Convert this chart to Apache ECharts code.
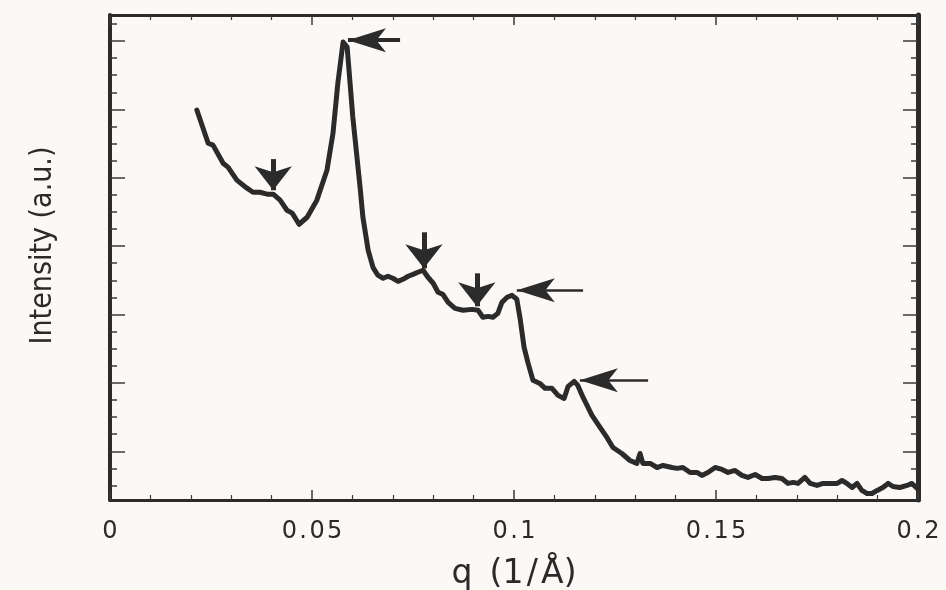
<!DOCTYPE html>
<html>
<head>
<meta charset="utf-8">
<title>Intensity vs q</title>
<script src="https://cdn.jsdelivr.net/npm/echarts@6/dist/echarts.min.js"></script>
<style>
  html, body { margin: 0; padding: 0; background: #fcf8f6; }
  #chart { width: 946px; height: 590px; }
</style>
</head>
<body>
<div id="chart"></div>
<script>
// Scattering vector q (1/Å)
var qValues = [
  0.0215, 0.0243, 0.0255, 0.0280, 0.0292, 0.0314, 0.0339, 0.0354, 0.0371, 0.0389,
  0.0404, 0.0421, 0.0438, 0.0451, 0.0468, 0.0488, 0.0512, 0.0537, 0.0552, 0.0564,
  0.0577, 0.0587, 0.0601, 0.0619, 0.0626, 0.0639, 0.0651, 0.0663, 0.0676, 0.0688,
  0.0700, 0.0713, 0.0725, 0.0738, 0.0750, 0.0762, 0.0775, 0.0787, 0.0800, 0.0812,
  0.0824, 0.0837, 0.0854, 0.0874, 0.0896, 0.0911, 0.0923, 0.0936, 0.0948, 0.0960,
  0.0970, 0.0983, 0.0995, 0.1007, 0.1015, 0.1025, 0.1035, 0.1047, 0.1064, 0.1077,
  0.1094, 0.1109, 0.1124, 0.1134, 0.1149, 0.1158, 0.1171, 0.1193, 0.1213, 0.1230,
  0.1245, 0.1267, 0.1287, 0.1304, 0.1312, 0.1319, 0.1337, 0.1354, 0.1369, 0.1391,
  0.1404, 0.1418, 0.1436, 0.1453, 0.1465, 0.1480, 0.1498, 0.1515, 0.1530, 0.1547,
  0.1564, 0.1579, 0.1597, 0.1614, 0.1629, 0.1646, 0.1663, 0.1678, 0.1691, 0.1703,
  0.1720, 0.1733, 0.1750, 0.1765, 0.1782, 0.1800, 0.1812, 0.1824, 0.1837, 0.1849,
  0.1861, 0.1874, 0.1886, 0.1899, 0.1913, 0.1926, 0.1938, 0.1955, 0.1973, 0.1985,
  0.1998
];

// Scattered intensity (arbitrary units)
var intensity = [
  22.96, 21.02, 20.91, 19.85, 19.62, 18.86, 18.39, 18.15, 18.15, 18.04,
  18.04, 17.69, 17.10, 16.93, 16.28, 16.69, 17.69, 19.44, 21.61, 24.54,
  26.94, 26.64, 22.55, 18.45, 16.69, 14.76, 13.76, 13.30, 13.12, 13.24,
  13.12, 12.94, 13.06, 13.24, 13.35, 13.47, 13.59, 13.18, 12.83, 12.30,
  12.18, 11.71, 11.36, 11.25, 11.30, 11.25, 10.84, 10.89, 10.84, 11.07,
  11.71, 12.01, 12.12, 11.89, 10.78, 9.08, 8.14, 7.15, 6.97, 6.68,
  6.68, 6.27, 6.09, 6.80, 7.09, 6.85, 6.15, 5.10, 4.40, 3.81,
  3.22, 2.87, 2.46, 2.29, 2.87, 2.29, 2.29, 2.05, 2.17, 2.05,
  2.00, 2.05, 1.76, 1.76, 1.59, 1.76, 2.05, 1.94, 1.76, 1.88,
  1.59, 1.47, 1.64, 1.41, 1.41, 1.47, 1.41, 1.12, 1.18, 1.12,
  1.47, 1.12, 1.00, 1.12, 1.12, 1.12, 1.29, 1.12, 0.88, 1.12,
  0.71, 0.53, 0.53, 0.71, 0.88, 1.12, 0.94, 0.88, 1.00, 1.12,
  0.82
];

// Axis ranges and tick values
var qMin = 0, qMax = 0.2, qStep = 0.05;
var yMin = 0.15, yMax = 28.52;
var yMajorTicks = [3, 7, 11, 15, 19, 23, 27];
var yMinorTicks = [1, 2, 4, 5, 6, 8, 9, 10, 12, 13, 14, 16, 17, 18, 20, 21, 22, 24, 25, 26, 28];

// Peak markers: [q start, I start, q tip, I tip]
var downArrows = [
  [0.0404, 20.09, 0.0404, 18.27],
  [0.0777, 15.81, 0.0777, 13.70],
  [0.0908, 13.41, 0.0908, 11.48]
];
var leftArrows = [
  [0.0718, 27.05, 0.0589, 27.05],
  [0.1171, 12.42, 0.1007, 12.42],
  [0.1332, 7.15, 0.1163, 7.15]
];

var ink = '#2b2b2b';

var lineData = qValues.map(function (q, i) { return [q, intensity[i]]; });

function spaced(s) {
  return String(s).split('').join('\u200A');
}

var markData = [];
downArrows.forEach(function (a) {
  markData.push([
    { coord: [a[0], a[1]], symbol: 'none' },
    { coord: [a[2], a[3]], symbol: 'arrow', symbolSize: [28, 24],
      lineStyle: { width: 5, color: ink } }
  ]);
});
leftArrows.forEach(function (a, i) {
  markData.push([
    { coord: [a[0], a[1]], symbol: 'none' },
    { coord: [a[2], a[3]], symbol: 'arrow', symbolSize: [18, 38],
      lineStyle: { width: i === 0 ? 4 : 2.5, color: ink } }
  ]);
});

function yAxisDef(pos, ticks, len, lineShow, lineWidth, extra) {
  var ax = {
    type: 'value', position: pos, min: yMin, max: yMax,
    axisLine: { show: lineShow, onZero: false, lineStyle: { color: ink, width: lineWidth } },
    axisTick: { show: true, inside: true, length: len, customValues: ticks,
      lineStyle: { color: '#3a3a3a', width: 1.5 } },
    axisLabel: { show: false },
    splitLine: { show: false }
  };
  if (extra) { for (var k in extra) ax[k] = extra[k]; }
  return ax;
}

function xAxisDef(pos, showLabels, extra) {
  var ax = {
    type: 'value', position: pos, min: qMin, max: qMax, interval: qStep,
    axisLine: { show: true, onZero: false, lineStyle: { color: ink, width: 3 } },
    axisTick: { show: true, inside: true, length: 10, lineStyle: { color: '#3a3a3a', width: 1.5 } },
    minorTick: { show: true, splitNumber: 5, length: 5, lineStyle: { color: '#3a3a3a', width: 1.2 } },
    axisLabel: {
      show: showLabels, margin: 20, color: '#2a2a2a', fontSize: 24,
      fontFamily: 'DejaVu Sans', formatter: function (v) { return spaced(v); }
    },
    splitLine: { show: false }
  };
  if (extra) { for (var k in extra) ax[k] = extra[k]; }
  return ax;
}

var chart = echarts.init(document.getElementById('chart'), null, { renderer: 'canvas' });

chart.setOption({
  backgroundColor: '#fcf8f6',
  animation: false,
  grid: { left: 110, right: 28, top: 15, bottom: 90, containLabel: false, outerBoundsMode: 'none' },
  xAxis: [
    xAxisDef('bottom', true, {
      name: 'q\u2009 (1\u200A/\u200AÅ)',
      nameLocation: 'middle', nameGap: 58,
      nameTextStyle: { fontSize: 33, color: '#2a2a2a', fontFamily: 'DejaVu Sans' }
    }),
    xAxisDef('top', false)
  ],
  yAxis: [
    yAxisDef('left', yMajorTicks, 15, true, 4, {
      name: 'Intensity (a.u.)', nameLocation: 'middle', nameGap: 52,
      nameTextStyle: { fontSize: 30, color: '#2a2a2a', padding: [0, 0, 0, 24],
        fontFamily: '"Liberation Sans Narrow", "DejaVu Sans Condensed", sans-serif' }
    }),
    yAxisDef('left', yMinorTicks, 7, false, 4),
    yAxisDef('right', yMajorTicks, 15, true, 5),
    yAxisDef('right', yMinorTicks, 7, false, 5)
  ],
  series: [{
    type: 'line',
    xAxisIndex: 0, yAxisIndex: 0,
    data: lineData,
    showSymbol: false,
    symbol: 'none',
    lineStyle: { color: ink, width: 5, join: 'round', cap: 'round' },
    markLine: {
      silent: true,
      animation: false,
      label: { show: false },
      lineStyle: { type: 'solid', color: ink },
      data: markData
    }
  }]
});
</script>
</body>
</html>
